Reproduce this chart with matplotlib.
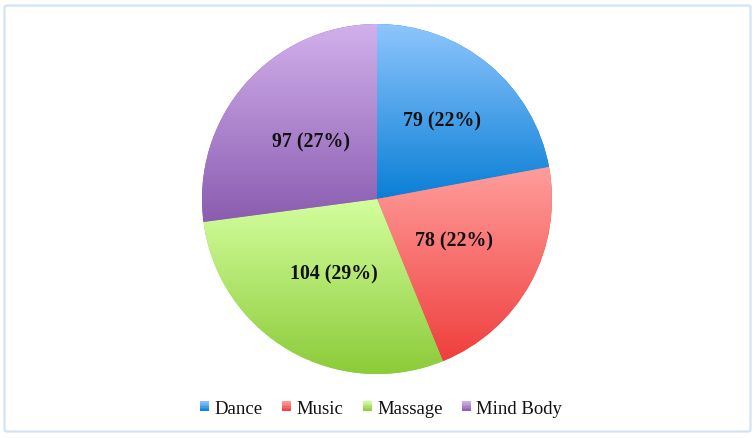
import numpy as np
import matplotlib
matplotlib.use("Agg")
import matplotlib.pyplot as plt
from matplotlib.colors import LinearSegmentedColormap
from matplotlib.patches import Rectangle, FancyBboxPatch
from matplotlib.legend_handler import HandlerBase

categories = ["Dance", "Music", "Massage", "Mind Body"]
values = [79, 78, 104, 97]
top_colors = ["#8ec5fd", "#ff9e9c", "#d4fe9e", "#d2b0ec"]
bottom_colors = ["#0a7fd6", "#ef3f3d", "#8bcb38", "#8a5cb0"]
label_dist = [0.58, 0.50, 0.49, 0.50]

plt.rcParams['font.family'] = ['Liberation Serif', 'DejaVu Serif']

W, H = 756, 439
fig = plt.figure(figsize=(W / 100, H / 100), dpi=100)
fig.patch.set_facecolor("white")

# outer border
border = FancyBboxPatch((4.5 / W, 6.5 / H), (W - 10) / W, (H - 13) / H,
                        boxstyle="round,pad=0,rounding_size=0.004",
                        transform=fig.transFigure, facecolor="none",
                        edgecolor="#d3e3f4", linewidth=1.6, zorder=0)
fig.patches.append(border)

cx, cy, R = 377, 200, 175
ax = fig.add_axes([(cx - R) / W, (H - cy - R) / H, 2 * R / W, 2 * R / H])
ax.axis("off")

wedges, _ = ax.pie(values, startangle=90, counterclock=False, radius=1,
                   wedgeprops=dict(linewidth=0), center=(0, 0))

total = sum(values)
for i, w in enumerate(wedges):
    cmap = LinearSegmentedColormap.from_list("g%d" % i, [bottom_colors[i], top_colors[i]])
    verts = w.get_path().vertices
    ymin, ymax = verts[:, 1].min(), verts[:, 1].max()
    xmin, xmax = verts[:, 0].min(), verts[:, 0].max()
    grad = np.linspace(0, 1, 256).reshape(-1, 1)
    w.set_facecolor(bottom_colors[i])
    im = ax.imshow(grad, cmap=cmap, origin="lower", aspect="auto",
                   extent=(xmin, xmax, ymin, ymax), zorder=1, interpolation="bilinear")
    im.set_clip_path(w)
    w.set_zorder(0.5)
    theta = np.deg2rad((w.theta1 + w.theta2) / 2)
    d = label_dist[i]
    pct = values[i] / total * 100
    ax.text(d * np.cos(theta), d * np.sin(theta), f"{values[i]} ({pct:.0f}%)",
            ha="center", va="center", fontsize=14.3, fontweight="bold",
            color="#111111", zorder=3)
ax.set_xlim(-1, 1)
ax.set_ylim(-1, 1)


class GradHandler(HandlerBase):
    def __init__(self, top, bottom):
        super().__init__()
        self.top = top
        self.bottom = bottom

    def create_artists(self, legend, orig_handle, xdescent, ydescent, width, height, fontsize, trans):
        s = 9.0 * 72 / 100
        x0 = xdescent + width - s
        y0 = -ydescent + (height - s) / 2
        arts = []
        n = 6
        cmap = LinearSegmentedColormap.from_list("h", [self.bottom, self.top])
        for k in range(n):
            r = Rectangle((x0, y0 + s * k / n), s, s / n + 0.05,
                          facecolor=cmap((k + 0.5) / n), edgecolor="none", transform=trans)
            arts.append(r)
        return arts


handles = [Rectangle((0, 0), 1, 1) for _ in categories]
hmap = {h: GradHandler(t, b) for h, t, b in zip(handles, top_colors, bottom_colors)}
fig.legend(handles, categories, handler_map=hmap, loc="center",
           bbox_to_anchor=(381 / W, 1 - 409 / H), ncol=4, frameon=False,
           fontsize=13.5, handlelength=0.5, handletextpad=0.3, columnspacing=1.0,
           labelcolor="#111111")

fig.savefig("out.png", dpi=100, facecolor="white")
